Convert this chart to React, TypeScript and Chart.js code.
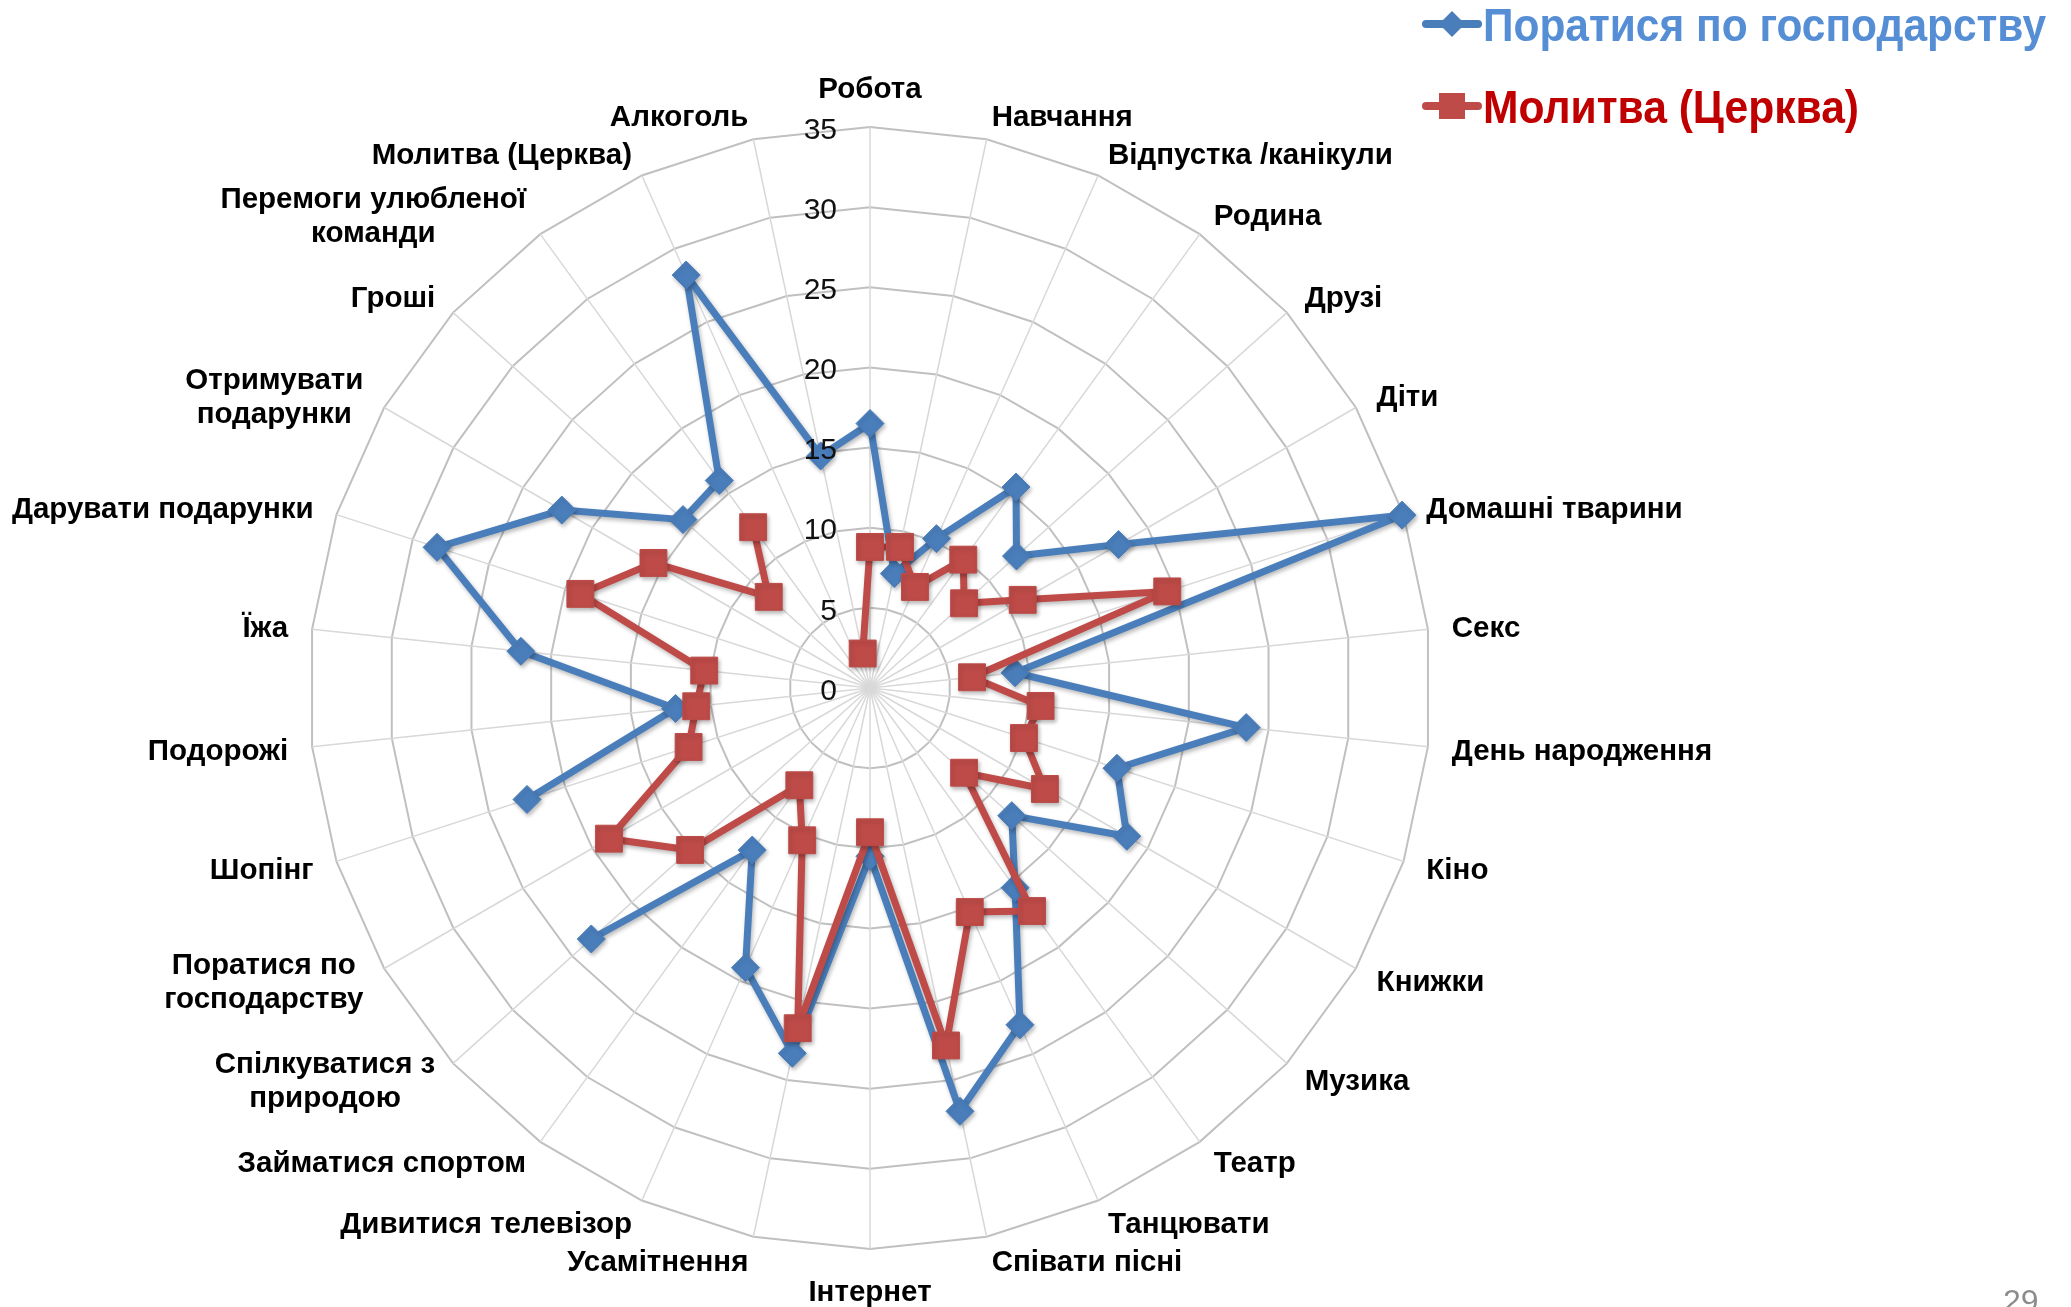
import React, { useEffect, useRef } from 'react';
import { Chart, registerables } from 'chart.js';

Chart.register(...registerables);

const CATEGORIES: (string | string[])[] = [
  'Робота',
  'Навчання',
  'Відпустка /канікули',
  'Родина',
  'Друзі',
  'Діти',
  'Домашні тварини',
  'Секс',
  'День народження',
  'Кіно',
  'Книжки',
  'Музика',
  'Театр',
  'Танцювати',
  'Співати пісні',
  'Інтернет',
  'Усамітнення',
  'Дивитися телевізор',
  'Займатися спортом',
  ['Спілкуватися з', 'природою'],
  ['Поратися по', 'господарству'],
  'Шопінг',
  'Подорожі',
  'Їжа',
  'Дарувати подарунки',
  ['Отримувати', 'подарунки'],
  'Гроші',
  ['Перемоги улюбленої', 'команди'],
  'Молитва (Церква)',
  'Алкоголь',
];

const HOUSEHOLD: (number | null)[] = [
  16.5, 7.3, 10.2, 15.5, 12.3, 17.9, 34.9, 9.1, 23.6, 16.2,
  18.5, 11.9, 15.4, 23.0, 27.0, 10.5, 23.3, 19.1, 12.5, 23.4,
  null, 22.5, 12.2, 21.9, 28.4, 22.2, 15.7, 16.0, 28.2, 14.8,
];

const PRAYER: (number | null)[] = [
  8.8, 9.0, 6.9, 9.9, 7.9, 11.0, 19.5, 6.4, 10.7, 10.1,
  12.6, 7.9, 17.2, 15.3, 22.8, 9.0, 21.7, 10.4, 7.5, 15.1,
  18.8, 11.9, 10.9, 10.4, 19.0, 15.6, 8.5, 12.4, null, 2.2,
];

const SERIES_NAMES = ['Поратися по господарству', 'Молитва (Церква)'];
const TICK_MIN = 0;
const TICK_MAX = 35;
const TICK_STEP = 5;
const PAGE_NUMBER = '29';

const BLUE = '#4a7ebb';
const RED = '#be4b48';
const FONT = '"Liberation Sans", Arial, sans-serif';

const shadowPlugin = {
  id: 'softShadow',
  beforeDatasetsDraw(chart: any) {
    const ctx: CanvasRenderingContext2D = chart.ctx;
    ctx.save();
    ctx.shadowColor = 'rgba(0,0,0,0.28)';
    ctx.shadowBlur = 4;
    ctx.shadowOffsetX = 1.5;
    ctx.shadowOffsetY = 2.5;
  },
  afterDatasetsDraw(chart: any) {
    chart.ctx.restore();
  },
};

const labelsPlugin = {
  id: 'customLabels',
  afterDraw(chart: any) {
    const scale = chart.scales.r;
    const ctx: CanvasRenderingContext2D = chart.ctx;
    ctx.save();

    // tick labels (left of the vertical axis)
    ctx.font = `30px ${FONT}`;
    ctx.fillStyle = '#111111';
    ctx.textAlign = 'right';
    ctx.textBaseline = 'middle';
    scale.ticks.forEach((t: any) => {
      const d = scale.getDistanceFromCenterForValue(t.value);
      ctx.fillText(String(t.value), scale.xCenter - 33, scale.yCenter - d + 3.5);
    });

    // point labels
    ctx.font = `bold 29.5px ${FONT}`;
    ctx.fillStyle = '#000000';
    const labels = chart.data.labels as (string | string[])[];
    const n = labels.length;
    const outer = scale.getDistanceFromCenterForValue(scale.max) + 24;
    const lh = 34;
    for (let i = 0; i < n; i++) {
      const lab = labels[i];
      const lines = Array.isArray(lab) ? lab : [lab];
      const pos = scale.getPointPosition(i, outer);
      const deg = Math.round((i * 360) / n) % 360;
      const widths = lines.map((l) => ctx.measureText(l).width);
      const bw = Math.max(...widths);
      if (deg === 0) {
        ctx.textAlign = 'center';
        ctx.textBaseline = 'bottom';
        lines.forEach((l, k) => ctx.fillText(l, pos.x, pos.y + 1.5 - (lines.length - 1 - k) * lh));
      } else if (deg === 180) {
        ctx.textAlign = 'center';
        ctx.textBaseline = 'top';
        lines.forEach((l, k) => ctx.fillText(l, pos.x, pos.y + 5 + k * lh));
      } else {
        ctx.textAlign = 'center';
        ctx.textBaseline = 'middle';
        const cx = deg < 180 ? pos.x + bw / 2 : pos.x - bw / 2;
        const y0 = pos.y + 2.5 - ((lines.length - 1) * lh) / 2;
        lines.forEach((l, k) => ctx.fillText(l, cx, y0 + k * lh));
      }
    }

    // legend
    const drawLegend = (
      idx: number,
      y: number,
      textColor: string,
      lineColor: string,
      marker: 'diamond' | 'square',
      targetW: number,
    ) => {
      ctx.strokeStyle = lineColor;
      ctx.lineWidth = 8;
      ctx.lineCap = 'round';
      ctx.beginPath();
      ctx.moveTo(1426, y);
      ctx.lineTo(1478, y);
      ctx.stroke();
      ctx.fillStyle = lineColor;
      ctx.beginPath();
      if (marker === 'diamond') {
        ctx.moveTo(1452 - 13, y);
        ctx.lineTo(1452, y - 13);
        ctx.lineTo(1452 + 13, y);
        ctx.lineTo(1452, y + 13);
        ctx.closePath();
      } else {
        ctx.rect(1452 - 13, y - 13, 26, 26);
      }
      ctx.fill();
      const name = SERIES_NAMES[idx];
      ctx.font = `bold 46px ${FONT}`;
      const w = ctx.measureText(name).width;
      ctx.save();
      ctx.translate(1483, y + 17);
      ctx.scale(targetW / w, 1);
      ctx.fillStyle = textColor;
      ctx.textAlign = 'left';
      ctx.textBaseline = 'alphabetic';
      ctx.fillText(name, 0, 0);
      ctx.restore();
    };
    drawLegend(0, 24, '#558ed5', BLUE, 'diamond', 563);
    drawLegend(1, 106, '#c00000', RED, 'square', 376);

    // page number
    ctx.font = `32px ${FONT}`;
    ctx.fillStyle = '#8c8c8c';
    ctx.textAlign = 'left';
    ctx.textBaseline = 'alphabetic';
    ctx.fillText(PAGE_NUMBER, 2003, 1312);

    ctx.restore();
  },
};

export default function App() {
  const ref = useRef<HTMLCanvasElement | null>(null);

  useEffect(() => {
    if (!ref.current) return;
    const chart = new Chart(ref.current, {
      type: 'radar',
      data: {
        labels: CATEGORIES as any,
        datasets: [
          {
            label: SERIES_NAMES[0],
            data: HOUSEHOLD,
            borderColor: BLUE,
            backgroundColor: BLUE,
            borderWidth: 7,
            pointStyle: 'rectRot',
            pointRadius: 14,
            pointBackgroundColor: BLUE,
            pointBorderColor: BLUE,
            pointBorderWidth: 1,
            fill: false,
            spanGaps: false,
            order: 1,
          },
          {
            label: SERIES_NAMES[1],
            data: PRAYER,
            borderColor: RED,
            backgroundColor: RED,
            borderWidth: 7,
            pointStyle: 'rect',
            pointRadius: 19,
            pointBackgroundColor: RED,
            pointBorderColor: RED,
            pointBorderWidth: 1,
            fill: false,
            spanGaps: false,
            order: 0,
          },
        ],
      },
      options: {
        responsive: false,
        animation: false,
        events: [],
        layout: { padding: { left: 309, right: 640, top: 127, bottom: 58 } },
        plugins: { legend: { display: false }, tooltip: { enabled: false }, title: { display: false } },
        elements: { line: { tension: 0, borderJoinStyle: 'round' } },
        scales: {
          r: {
            min: TICK_MIN,
            max: TICK_MAX,
            ticks: { stepSize: TICK_STEP, display: false },
            pointLabels: { display: false },
            grid: { color: '#c0c0c0', lineWidth: 2 },
            angleLines: { color: '#d8d8d8', lineWidth: 1.5 },
          },
        },
      },
      plugins: [shadowPlugin, labelsPlugin],
    });
    return () => chart.destroy();
  }, []);

  return (
    <div style={{ position: 'absolute', left: 0, top: 0, width: 2071, height: 1307, background: '#ffffff' }}>
      <canvas ref={ref} width={2071} height={1307} style={{ display: 'block' }} />
    </div>
  );
}
